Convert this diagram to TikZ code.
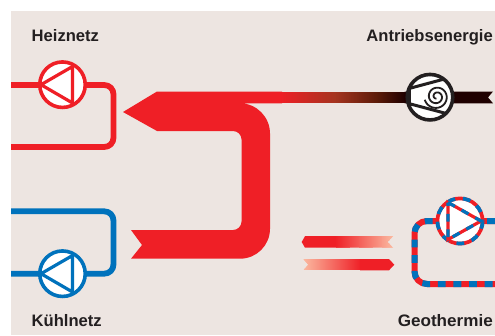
\documentclass[tikz,border=0pt]{standalone}
\usepackage{fontspec}
\setmainfont{Liberation Sans}
\definecolor{bgc}{HTML}{EDE5E1}
\definecolor{redc}{HTML}{EF1F26}
\definecolor{bluec}{HTML}{0072BC}
\definecolor{darkc}{HTML}{231F20}
\definecolor{brownc}{HTML}{A5341F}
\definecolor{umberc}{HTML}{5A1A08}
\definecolor{blackred}{HTML}{1F0000}
\definecolor{paler}{HTML}{FBB9A0}
\newcommand{\gradstrip}[7]{% x0, x1, y0, y1, colour from, colour to, step
  \foreach \gx in {#1,#7,...,#2}{%
    \pgfmathsetmacro{\gp}{100*(#2-\gx)/(#2-#1)}%
    \fill[#6!\gp!#5] (\gx,#3) rectangle (\gx+1.6,#4);%
  }}
\newcommand{\gradstripr}[6]{% x0, x1, y0, y1, colour at x0, colour at x1
  \foreach \gi in {0,...,60}{%
    \pgfmathsetmacro{\gp}{100*\gi/60}%
    \pgfmathsetmacro{\gx}{#1+(#2-#1)*\gi/60}%
    \pgfmathsetmacro{\gw}{(#2-#1)/60+0.6}%
    \fill[#6!\gp!#5] (\gx,#3) rectangle (\gx+\gw,#4);%
  }}
\tikzset{
  labeltext/.style={font=\fontsize{16.6}{18}\selectfont\bfseries, text=darkc, inner sep=0pt},
  pipe/.style={line width=5.8pt, line join=round},
  pumpring/.style={circle, minimum size=45.5pt, inner sep=0pt, fill=white, draw=#1, line width=3.6pt},
  pumpwedge/.style={line width=3.2pt, line join=miter, draw=#1},
  duo/.style={draw=redc, postaction={draw=bluec, dash pattern=on 7.8pt off 7.8pt}}
}
\begin{document}
\begin{tikzpicture}[x=1pt,y=-1pt]
\useasboundingbox (0,0) rectangle (495,335);
\fill[bgc] (11,11) rectangle (495,335);

% pump nodes and connector end points
\coordinate (hl1) at (11,85);
\coordinate (hl2) at (11,147);
\coordinate (kl1) at (11,273.7);
\coordinate (kl2) at (11,211.3);
\coordinate (gr1) at (495,221);
\coordinate (gr2) at (495,284);

% heating circuit
\draw[pipe, redc] (hl1) -- (62.5,85) (62.5,85) -- (104,85) .. controls (109.5,85) and (113.5,89) .. (113.5,94.5) -- (113.5,137.5) .. controls (113.5,143) and (109.5,147) .. (104,147) -- (hl2);
\node[pumpring=redc] (heat) at (62.5,84.7) {};
\draw[pumpwedge=redc] (41,84.7) -- (72.5,66.5) -- (72.5,103) -- cycle;

% cooling circuit
\draw[pipe, bluec] (kl1) -- (62.5,273.7) -- (104,273.7) .. controls (109.5,273.7) and (113.5,269.7) .. (113.5,264.2) -- (113.5,220.8) .. controls (113.5,215.3) and (109.5,211.3) .. (104,211.3) -- (kl2);
\node[pumpring=bluec] (cool) at (62.5,273.7) {};
\draw[pumpwedge=bluec] (41,273.7) -- (72.5,255.5) -- (72.5,292) -- cycle;

% main heat arrow
\fill[redc] (123,112) -- (157,91.5) -- (282,91.5) -- (282,103.3) -- (240,103.3)
  .. controls (256.6,103.3) and (270,117) .. (270,133.5) -- (270,228.7)
  .. controls (270,245.3) and (256.6,258.7) .. (240,258.7)
  -- (131,258.7) -- (142,245) -- (131,230) -- (233,230)
  .. controls (237.7,230) and (241.5,226.2) .. (241.5,221.5) -- (241.5,139.5)
  .. controls (241.5,134.8) and (237.7,131) .. (233,131) -- (157,131) -- cycle;
\gradstripr{280}{335}{91.5}{103.3}{redc}{brownc}
\gradstripr{335}{378}{91.5}{103.3}{brownc}{umberc}
\gradstripr{378}{405}{91.5}{103.3}{umberc}{blackred}
\fill[blackred] (404.5,91.5) -- (493,91.5) -- (488,97.4) -- (493,103.3) -- (404.5,103.3) -- cycle;

% turbine
\node[circle, minimum size=45.5pt, inner sep=0pt, fill=white] (turb) at (430,97.2) {};
\begin{scope}
\clip (turb.center) circle (23);
\draw[darkc, line width=3pt] (409,88.5) -- (450,77.5);
\draw[darkc, line width=3pt] (409,103.6) -- (450,114.5);
\fill[darkc] (405,70) rectangle (411,125);
\end{scope}
\draw[darkc, line width=1.8pt, line cap=butt] plot[domain=0:1, samples=90, smooth] ({436.6+(12.3-10.5*\x)*cos(195+790*\x)}, {96.6-(12.3-10.5*\x)*sin(195+790*\x)});
\node[circle, minimum size=45.5pt, inner sep=0pt, draw=darkc, line width=3.6pt] at (turb.center) {};

% ground circuit
\draw[pipe, duo, line width=6pt] (gr1) -- (460,221) -- (427,221) .. controls (420,221) and (414.5,226.5) .. (414.5,233.5) -- (414.5,271.5) .. controls (414.5,278.5) and (420,284) .. (427,284) -- (gr2);
\node[circle, minimum size=45.5pt, inner sep=0pt, fill=white] (geo) at (460,221) {};
\draw[duo, line width=3.7pt] (geo.center) circle (22.6);
\draw[duo, line width=3.2pt, line join=miter] (448,202.5) -- (481,221) -- (448,239.5) -- cycle;

% exchange arrows
\fill[redc] (301.7,242) -- (305,236.2) -- (336,236.2) -- (336,247.7) -- (305,247.7) -- cycle;
\begin{scope}
\clip (335.5,236.2) -- (393,236.2) -- (387.7,242) -- (393,247.7) -- (335.5,247.7) -- cycle;
\gradstripr{335.5}{393}{236.2}{247.7}{redc}{paler}
\end{scope}
\fill[redc] (360,259) -- (389,259) -- (394.3,264.7) -- (389,270.3) -- (360,270.3) -- cycle;
\begin{scope}
\clip (303.3,259) -- (360.5,259) -- (360.5,270.3) -- (303.3,270.3) -- (308.3,264.7) -- cycle;
\gradstripr{303.3}{360.5}{259}{270.3}{paler}{redc}
\end{scope}

% labels
\node[labeltext, anchor=base west] (lh) at (31.5,41.5) {Heiznetz};
\node[labeltext, anchor=base west] (lk) at (31.5,326) {Kühlnetz};
\node[labeltext, anchor=base east] (la) at (493,41.5) {Antriebsenergie};
\node[labeltext, anchor=base east, xscale=1.03] (lg) at (493,326) {Geothermie};
\end{tikzpicture}
\end{document}
